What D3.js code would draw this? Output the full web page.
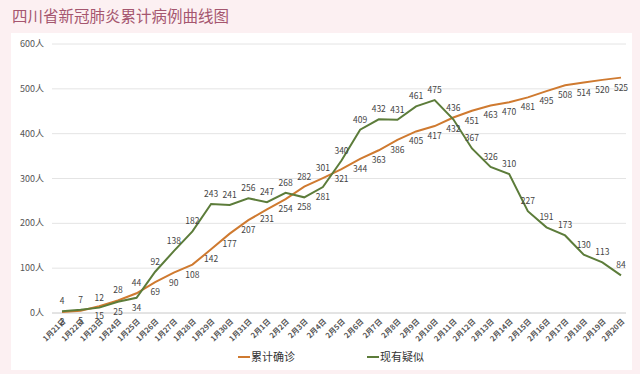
<!DOCTYPE html>
<meta charset="utf-8">
<head>
<title>四川省新冠肺炎累计病例曲线图</title>
<script src="https://cdn.jsdelivr.net/npm/d3@7"></script>
<style>
body {
    margin: 0;
    background: #fcf0f2;
    font-family: "Noto Sans CJK SC", sans-serif;
}
svg { display: block; }
.grid line { stroke: #e4e4e4; }
.val { font-size: 8.5px; fill: #444; text-anchor: middle; }
.xlab { font-size: 7.5px; fill: #555; font-weight: bold; }
.ylab { font-size: 9px; fill: #555; text-anchor: end; }
</style>
</head>
<body>
<script>
// dates
const dates = ["1月21日","1月22日","1月23日","1月24日","1月25日","1月26日","1月27日","1月28日",
    "1月29日","1月30日","1月31日","2月1日","2月2日","2月3日","2月4日","2月5日","2月6日","2月7日",
    "2月8日","2月9日","2月10日","2月11日","2月12日","2月13日","2月14日","2月15日","2月16日",
    "2月17日","2月18日","2月19日","2月20日"];

// 累计确诊
const confirmed = [2,5,15,28,44,69,90,108,142,177,207,231,254,282,301,321,344,363,386,405,417,
    436,451,463,470,481,495,508,514,520,525];

// 现有疑似
const suspected = [4,7,12,25,34,92,138,182,243,241,256,247,268,258,281,340,409,432,431,461,475,
    432,367,326,310,227,191,173,130,113,84];

const yTicks = [0,100,200,300,400,500,600];

const W = 640, H = 374;
const orange = "#cf7a30", green = "#5c7c3a";

const svg = d3.select("body").append("svg")
    .attr("width", W)
    .attr("height", H);

// white panel
svg.append("rect")
    .attr("x", 11).attr("y", 33)
    .attr("width", 621).attr("height", 337)
    .attr("fill", "#fff");

// title
svg.append("text")
    .attr("x", 12).attr("y", 22)
    .attr("font-size", "15.5px")
    .attr("fill", "#a5566f")
    .text("四川省新冠肺炎累计病例曲线图");

const x = d3.scalePoint().domain(dates).range([62, 621]);
const y = d3.scaleLinear().domain([0, 600]).range([313, 44]);

// grid lines + y labels
const grid = svg.append("g").attr("class", "grid");
grid.selectAll("line")
    .data(yTicks)
    .enter().append("line")
    .attr("x1", 52).attr("x2", 626)
    .attr("y1", d => y(d)).attr("y2", d => y(d))
    .style("stroke", d => d === 0 ? "#c8c8c8" : null);

svg.selectAll(".ylab")
    .data(yTicks)
    .enter().append("text")
    .attr("class", "ylab")
    .attr("x", 44)
    .attr("y", d => y(d) + 3)
    .text(d => d + "人");

// x labels, rotated
svg.selectAll(".xlab")
    .data(dates)
    .enter().append("text")
    .attr("class", "xlab")
    .attr("text-anchor", "end")
    .attr("transform", d => `translate(${x(d) + 4},${322}) rotate(-45)`)
    .text(d => d);

const line = d3.line()
    .x((d, i) => x(dates[i]))
    .y(d => y(d));

svg.append("path")
    .datum(confirmed)
    .attr("fill", "none")
    .attr("stroke", orange)
    .attr("stroke-width", 2)
    .attr("d", line);

svg.append("path")
    .datum(suspected)
    .attr("fill", "none")
    .attr("stroke", green)
    .attr("stroke-width", 2)
    .attr("d", line);

// value labels: green above, orange below, swapped where green dips just under orange
function swapped(i) {
    const g = suspected[i], o = confirmed[i];
    return g < o && o - g < 30 && o > 20;
}

svg.selectAll(".valG")
    .data(suspected)
    .enter().append("text")
    .attr("class", "val")
    .attr("x", (d, i) => x(dates[i]))
    .attr("y", (d, i) => swapped(i) ? y(d) + 13 : y(d) - 7)
    .text(d => d);

svg.selectAll(".valO")
    .data(confirmed)
    .enter().append("text")
    .attr("class", "val")
    .attr("x", (d, i) => x(dates[i]))
    .attr("y", (d, i) => swapped(i) ? y(d) - 7 : y(d) + 13)
    .text(d => d);

// legend
const legend = [["累计确诊", orange, 238], ["现有疑似", green, 367]];
const lg = svg.selectAll(".lg")
    .data(legend)
    .enter().append("g")
    .attr("transform", d => `translate(${d[2]},357)`);
lg.append("line")
    .attr("x1", 0).attr("x2", 12)
    .attr("y1", 0).attr("y2", 0)
    .attr("stroke", d => d[1])
    .attr("stroke-width", 2);
lg.append("text")
    .attr("x", 13).attr("y", 4)
    .attr("font-size", "11px")
    .attr("fill", "#333")
    .text(d => d[0]);
</script>
</body>
</html>
